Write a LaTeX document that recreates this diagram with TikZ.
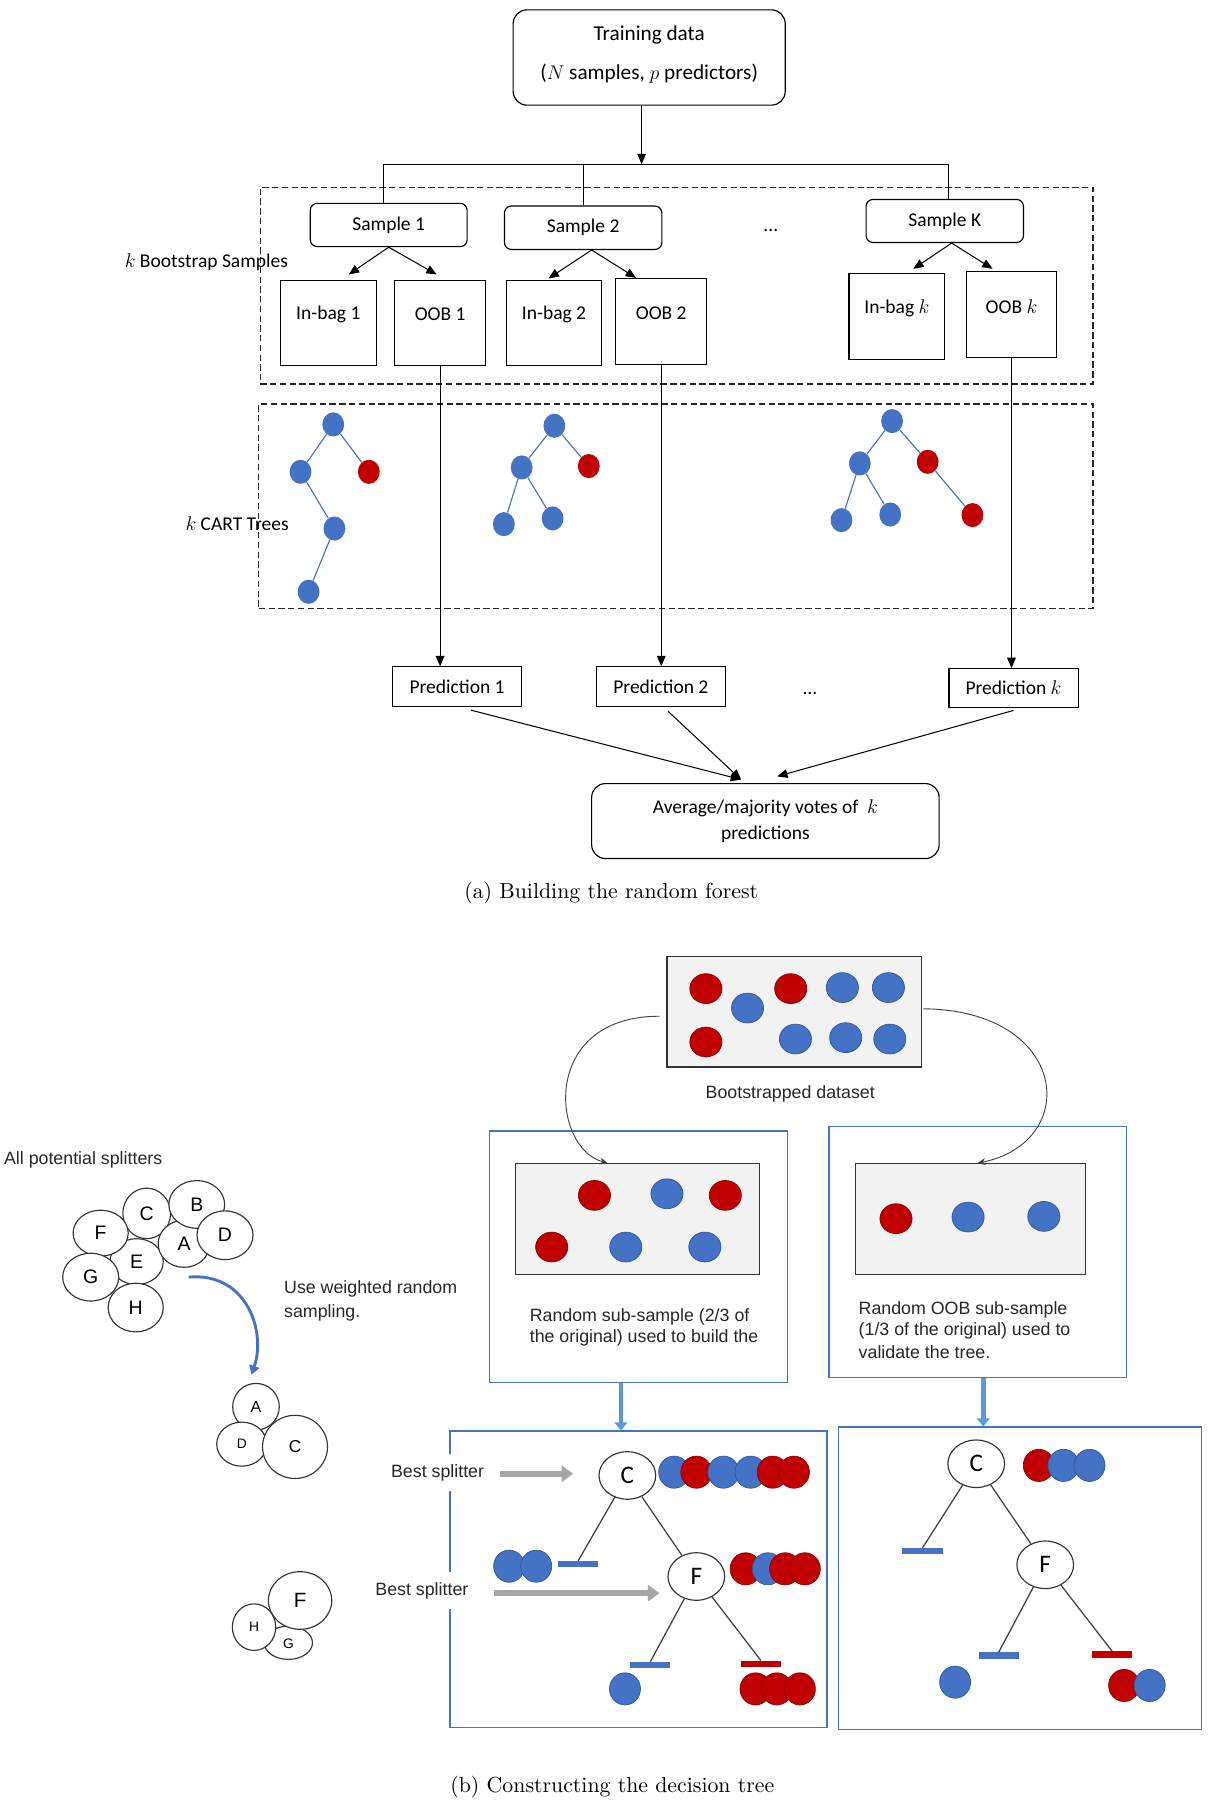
\documentclass[tikz,border=0pt]{standalone}
\usepackage{fontspec}
\newfontfamily\cfont{Carlito}
\newfontfamily\afont{Liberation Sans}
\newfontfamily\capfont{lmroman10-regular.otf}
\usetikzlibrary{arrows.meta,shapes.geometric}
\definecolor{cblue}{HTML}{4472C4}
\definecolor{cred}{HTML}{C00000}
\definecolor{cblueb}{HTML}{2F5597}
\definecolor{credb}{HTML}{8B0000}
\definecolor{lblue}{HTML}{5B9BD5}
\definecolor{boxgray}{HTML}{F2F2F2}
\begin{document}
\begin{tikzpicture}[x=1pt,y=-1pt,
  fa/.style={font=\cfont\fontsize{17}{20}\selectfont},
  fb/.style={font=\afont\fontsize{15.5}{18.5}\selectfont, text=black!85},
  ln/.style={draw=black, line width=1pt},
  sqbox/.style={draw=black, line width=1pt, inner sep=0pt},
  rdbox/.style={sqbox, rounded corners=6pt},
  arr/.style={draw=black, line width=0.9pt, -{Triangle[length=9pt,width=7.5pt]}},
  dbox/.style={draw=black!85, line width=1.1pt, dash pattern=on 5.5pt off 3pt, inner sep=0pt},
  tnb/.style={ellipse, fill=cblue, minimum width=19pt, minimum height=21pt, inner sep=0pt},
  tnr/.style={tnb, fill=cred},
  tl/.style={draw=cblue, line width=1pt},
  bc/.style={ellipse, fill=cblue, draw=cblueb, line width=0.6pt, minimum width=28pt, minimum height=26pt, inner sep=0pt},
  rc/.style={bc, fill=cred, draw=credb},
  tcb/.style={bc, minimum width=27pt, minimum height=28pt},
  tcr/.style={rc, minimum width=27pt, minimum height=28pt},
  gbox/.style={draw=black!80, fill=boxgray, line width=1pt, inner sep=0pt},
  bbox/.style={draw=cblue, line width=1pt, inner sep=0pt},
  lc/.style={ellipse, draw=black!80, fill=white, line width=1pt, inner sep=0pt, font=\afont\fontsize{17}{17}\selectfont},
  tnode/.style={lc, minimum width=49.4pt, minimum height=41.4pt, font=\cfont\fontsize{22}{22}\selectfont},
  bar/.style={fill=cblue, minimum width=35pt, minimum height=5.5pt, inner sep=0pt},
  rbar/.style={bar, fill=cred},
  tline/.style={draw=black!75, line width=1.1pt},
  garr/.style={draw=black!35, line width=5pt, -{Triangle[length=10pt,width=14pt]}},
  barr/.style={draw=lblue, line width=4pt, -{Triangle[length=7pt,width=11pt]}},
  carr/.style={draw=black!75, line width=0.8pt, -{Stealth[length=7pt,width=6pt]}},
  bcurve/.style={draw=cblue, line width=2.5pt, -{Triangle[length=8pt,width=9pt]}},
  capt/.style={font=\capfont\fontsize{19}{22}\selectfont}
]
\useasboundingbox (0,0) rectangle (1057,1568);

%%%%%%%%%%%%%%%% PART (a)
\node[sqbox, rounded corners=12pt, minimum width=237pt, minimum height=83pt] (train) at (565.5,50.1) {};
\node[font=\cfont\fontsize{18.5}{22}\selectfont] (train1) at (565.5,30.5) {Training data};
\node[font=\cfont\fontsize{18.5}{22}\selectfont] (train2) at (565.5,64.5) {($N$ samples, $p$ predictors)};

\coordinate (busL) at (334.4,143);
\coordinate (busR) at (826.6,143);
\coordinate (busM) at (558.9,143);

\node[dbox, minimum width=725.4pt, minimum height=171.4pt] (dash1) at (589.5,248.8) {};
\node[dbox, minimum width=726.5pt, minimum height=178pt] (dash2) at (588.75,441) {};

\node[rdbox, fa, minimum width=136.6pt, minimum height=37.7pt] (s1) at (338.6,196) {Sample 1};
\node[rdbox, fa, minimum width=137.1pt, minimum height=37.8pt] (s2) at (508,198.4) {Sample 2};
\node[rdbox, fa, minimum width=137.1pt, minimum height=37.5pt] (sK) at (823,192.5) {Sample K};
\node[fa] (dots1) at (671.5,200.4) {...};

\draw[arr] (train.south -| busM) -- (busM);
\draw[ln] (busL) -- (busR);
\draw[ln] (busL) -- (busL |- s1.north);
\draw[ln] (s2.north |- busL) -- (s2.north);
\draw[ln] (busR) -- (busR |- sK.north);

\node[sqbox, minimum width=83.5pt, minimum height=74.6pt] (ib1) at (286,281.3) {};
\node[sqbox, minimum width=79pt, minimum height=74.6pt] (oob1) at (383.4,281.3) {};
\node[sqbox, minimum width=82.5pt, minimum height=74.6pt] (ib2) at (482.6,281.3) {};
\node[sqbox, minimum width=79.1pt, minimum height=74.7pt] (oob2) at (576,279.9) {};
\node[sqbox, minimum width=83.6pt, minimum height=74.6pt] (ibk) at (781.3,275.5) {};
\node[sqbox, minimum width=79pt, minimum height=74.7pt] (oobk) at (881.1,274) {};
\node[fa] (ib1t) at (286,274) {In-bag 1};
\node[fa] (oob1t) at (383.4,274) {OOB 1};
\node[fa] (ib2t) at (482.6,274) {In-bag 2};
\node[fa] (oob2t) at (576,272.6) {OOB 2};
\node[fa] (ibkt) at (781.3,268.2) {In-bag $k$};
\node[fa] (oobkt) at (881.1,266.8) {OOB $k$};

\draw[arr] (s1.south) -- ([xshift=17.8pt,yshift=4.4pt]ib1.north);
\draw[arr] (s1.south) -- ([xshift=-3pt,yshift=4.4pt]oob1.north);
\draw[arr] ([xshift=7.4pt]s2.south) -- ([xshift=-4.7pt,yshift=1pt]ib2.north);
\draw[arr] ([xshift=7.4pt]s2.south) -- ([xshift=-22pt,yshift=0pt]oob2.north);
\draw[arr] ([xshift=6pt]sK.south) -- ([xshift=14.3pt,yshift=3.5pt]ibk.north);
\draw[arr] ([xshift=6pt]sK.south) -- ([xshift=-16.5pt,yshift=2pt]oobk.north);

\node[fa] (lblboot) at (179.8,228) {$k$ Bootstrap Samples};
\node[fa] (lblcart) at (206.5,456) {$k$ CART Trees};

% trees
\node[tnb] (t1a) at (290.3,369.7) {};
\node[tnb] (t1b) at (261.8,411) {};
\node[tnr] (t1c) at (321.3,411) {};
\node[tnb] (t1d) at (291.3,460.4) {};
\node[tnb] (t1e) at (268.8,515.5) {};
\draw[tl] (t1a) -- (t1b); \draw[tl] (t1a) -- (t1c);
\draw[tl] (t1b) -- (t1d); \draw[tl] (t1d) -- (t1e);

\node[tnb] (t2a) at (482.9,370.9) {};
\node[tnb] (t2b) at (454.4,407.2) {};
\node[tnr] (t2c) at (512.9,406) {};
\node[tnb] (t2d) at (438.9,456.6) {};
\node[tnb] (t2e) at (481.4,451.6) {};
\draw[tl] (t2a) -- (t2b); \draw[tl] (t2a) -- (t2c);
\draw[tl] (t2b) -- (t2d); \draw[tl] (t2b) -- (t2e);

\node[tnb] (t3a) at (777.1,366.8) {};
\node[tnb] (t3b) at (749,403.7) {};
\node[tnr] (t3c) at (808.1,402.3) {};
\node[tnb] (t3d) at (733,453.1) {};
\node[tnb] (t3e) at (775.5,448.2) {};
\node[tnr] (t3f) at (847.1,448.7) {};
\draw[tl] (t3a) -- (t3b); \draw[tl] (t3a) -- (t3c);
\draw[tl] (t3b) -- (t3d); \draw[tl] (t3b) -- (t3e);
\draw[tl] (t3c) -- (t3f);

% predictions
\node[sqbox, fa, minimum width=112.5pt, minimum height=34.3pt] (p1) at (398.2,598) {Prediction 1};
\node[sqbox, fa, minimum width=112.6pt, minimum height=34.3pt] (p2) at (575.7,598) {Prediction 2};
\node[sqbox, fa, minimum width=112.5pt, minimum height=33.9pt] (pk) at (882.9,599.4) {Prediction $k$};
\node[fa] (dots2) at (705.5,604.1) {...};

\draw[arr] (oob1.south) -- (oob1.south |- p1.north);
\draw[arr] (oob2.south) -- (oob2.south |- p2.north);
\draw[arr] (oobk.south) -- (oobk.south |- pk.north);

\node[sqbox, rounded corners=12pt, fa, align=center, font=\cfont\fontsize{17}{22}\selectfont,
      minimum width=302.7pt, minimum height=65.3pt] (avg) at (666.75,715.25)
      {Average/majority votes of~ $k$\\predictions};

\draw[arr] ([xshift=12.2pt,yshift=-3pt]p1.south) -- ([xshift=-21.2pt,yshift=3pt]avg.north);
\draw[arr] ([xshift=6.3pt,yshift=-4pt]p2.south) -- ([xshift=-21.2pt,yshift=3pt]avg.north);
\draw[arr] ([yshift=-2pt]pk.south) -- ([xshift=10.25pt,yshift=5.8pt]avg.north);

\node[capt] (capa) at (532.4,778) {(a) Building the random forest};

%%%%%%%%%%%%%%%% PART (b)
\node[gbox, minimum width=221.8pt, minimum height=96.5pt] (boot) at (691.9,881.25) {};
\node[rc] (bc1) at (614.9,861.2) {};
\node[bc] (bc2) at (651.2,878.1) {};
\node[rc] (bc3) at (688.8,861.2) {};
\node[bc] (bc4) at (733.8,860.3) {};
\node[bc] (bc5) at (773.9,860.3) {};
\node[rc] (bc6) at (614.9,907.7) {};
\node[bc] (bc7) at (692.9,905.1) {};
\node[bc] (bc8) at (736.7,903.9) {};
\node[bc] (bc9) at (775.1,905.1) {};
\node[fb] (bootlbl) at (688.4,953.3) {Bootstrapped dataset};

\node[bbox, minimum width=260.2pt, minimum height=219.3pt] (lbox) at (556.2,1094.85) {};
\node[gbox, minimum width=212.7pt, minimum height=96.7pt] (lin) at (555.15,1062.05) {};
\node[rc] (lc1) at (517.8,1041.3) {};
\node[bc] (lc2) at (581,1039.9) {};
\node[rc] (lc3) at (631.8,1041.3) {};
\node[rc] (lc4) at (480.6,1086.3) {};
\node[bc] (lc5) at (545.1,1086.3) {};
\node[bc] (lc6) at (614,1086.3) {};
\node[fb, anchor=west] (ltx1) at (458,1147.3) {Random sub-sample (2/3 of};
\node[fb, anchor=west] (ltx2) at (458,1165.5) {the original) used to build the};

\node[bbox, minimum width=259.4pt, minimum height=219pt] (rbox) at (851.9,1090.7) {};
\node[gbox, minimum width=199.9pt, minimum height=96.7pt] (rin) at (845.35,1062.05) {};
\node[rc] (rc1) at (780.5,1061.6) {};
\node[bc] (rc2) at (843.3,1060.2) {};
\node[bc] (rc3) at (909.3,1059.6) {};
\node[fb, anchor=west] (rtx1) at (744.5,1141) {Random OOB sub-sample};
\node[fb, anchor=west] (rtx2) at (744.5,1159.5) {(1/3 of the original) used to};
\node[fb, anchor=west] (rtx3) at (744.5,1178.2) {validate the tree.};

\draw[carr] ([xshift=-6pt,yshift=-4pt]boot.west) .. controls (470,885) and (480,1000) .. ([xshift=-25.7pt]lin.north);
\draw[carr] ([xshift=1pt,yshift=2.5pt]boot.east) .. controls (932,880) and (942,995) .. ([xshift=6.2pt]rin.north);

% bottom boxes
\node[bbox, minimum width=328.4pt, minimum height=258pt] (bl) at (556.2,1375.6) {};
\node[bbox, minimum width=316.4pt, minimum height=263.8pt] (br) at (888.4,1375) {};
\draw[barr] ([xshift=-15.3pt]lbox.south) -- ([xshift=-15.3pt]bl.north);
\draw[barr] ([xshift=4.6pt]rbox.south) -- ([xshift=4.6pt]rbox.south |- br.north);

% left tree
\node[tnode] (lC) at (546.5,1285.3) {C};
\node[tcb] (lr1) at (587.3,1282.4) {};
\node[tcr] (lr2) at (606.6,1282.4) {};
\node[tcb] (lr3) at (630.2,1282.4) {};
\node[tcb] (lr4) at (653.8,1282.4) {};
\node[tcr] (lr5) at (673.1,1282.4) {};
\node[tcr] (lr6) at (691.6,1282.4) {};
\node[bar] (lbar1) at (503.6,1362.6) {};
\node[tcb] (lp1) at (443.5,1364.3) {};
\node[tcb] (lp2) at (467.1,1364.3) {};
\node[tnode] (lF) at (606.6,1373.3) {F};
\node[tcr] (lf1) at (649.5,1366.6) {};
\node[tcb] (lf2) at (668.9,1366.6) {};
\node[tcr] (lf3) at (683.9,1366.6) {};
\node[tcr] (lf4) at (701.1,1366.6) {};
\node[bar] (lbar2) at (566.5,1450.5) {};
\node[rbar] (lbar3) at (662.8,1449.4) {};
\node[tcb] (lb1) at (544.4,1471.2) {};
\node[tcr] (lq1) at (658.1,1471.2) {};
\node[tcr] (lq2) at (676.6,1471.2) {};
\node[tcr] (lq3) at (696.8,1471.2) {};
\draw[tline] (lC) -- (lbar1.north);
\draw[tline] (lC) -- (lF);
\draw[tline] (lF) -- (lbar2.north);
\draw[tline] (lF) -- (lbar3.north);

\node[fb, fill=white, inner xsep=2pt, inner ysep=9pt] (bs1) at (381.2,1283) {Best splitter};
\node[fb, fill=white, inner xsep=2pt, inner ysep=9pt] (bs2) at (367.5,1385.5) {Best splitter};
\coordinate (ga1e) at (499.3,1283.8);
\coordinate (ga2e) at (574.4,1387.8);
\draw[garr] ([xshift=11.4pt]bs1.east |- ga1e) -- (ga1e);
\draw[garr] ([xshift=20.4pt]bs2.east |- ga2e) -- (ga2e);

% right tree
\node[tnode] (rC) at (850.4,1275.1) {C};
\node[tcr] (rr1) at (904.9,1276.5) {};
\node[tcb] (rr2) at (926.4,1276.5) {};
\node[tcb] (rr3) at (949.1,1276.5) {};
\node[bar] (rbar1) at (803.6,1351.3) {};
\node[tnode] (rF) at (910.5,1363.1) {F};
\node[bar] (rbar2) at (870,1442.1) {};
\node[rbar] (rbar3) at (968.7,1441.2) {};
\node[tcb] (rb1) at (832,1465.3) {};
\node[tcr] (rq1) at (979.2,1468.2) {};
\node[tcb] (rq2) at (1001.5,1468.2) {};
\draw[tline] (rC) -- (rbar1.north);
\draw[tline] (rC) -- (rF);
\draw[tline] (rF) -- (rbar2.north);
\draw[tline] (rF) -- (rbar3.north);

% left clusters
\node[fb, anchor=west] (allsp) at (0,1010.4) {All potential splitters};
\node[lc, minimum width=46.4pt, minimum height=40pt] (cE) at (119,1099) {E};
\node[lc, minimum width=41.6pt, minimum height=44pt] (cC) at (127.8,1057) {C};
\node[lc, minimum width=45pt, minimum height=41pt] (cA) at (160.3,1083.5) {A};
\node[lc, minimum width=48.6pt, minimum height=41.6pt] (cB) at (171.4,1049.2) {B};
\node[lc, minimum width=48.8pt, minimum height=42.4pt] (cD) at (196,1076) {D};
\node[lc, minimum width=48pt, minimum height=40pt] (cF) at (87.7,1074.2) {F};
\node[lc, minimum width=48.8pt, minimum height=41.6pt] (cG) at (79,1112.5) {G};
\node[lc, minimum width=48pt, minimum height=42.4pt] (cH) at (118.2,1139) {H};

\node[fb, anchor=west] (uw1) at (244,1122.7) {Use weighted random};
\node[fb, anchor=west] (uw2) at (244,1143.7) {sampling.};

\node[lc, minimum width=40.6pt, minimum height=40.6pt, font=\afont\fontsize{14}{14}\selectfont] (cA2) at (223,1225.4) {A};
\node[lc, minimum width=43.6pt, minimum height=38.4pt, font=\afont\fontsize{12}{12}\selectfont] (cD2) at (210.6,1258) {D};
\node[lc, minimum width=56.6pt, minimum height=55pt, font=\afont\fontsize{15}{15}\selectfont] (cC2) at (257,1260.4) {C};

\draw[bcurve] ([xshift=4pt,yshift=-8pt]cA.south) .. controls (215,1108) and (232,1160) .. ([xshift=-4pt,yshift=7pt]cA2.north);

\node[lc, minimum width=42pt, minimum height=29pt, font=\afont\fontsize{12}{12}\selectfont] (cG3) at (251.2,1431) {};
\node[lc, minimum width=37.8pt, minimum height=40.6pt, font=\afont\fontsize{12}{12}\selectfont] (cH3) at (221.3,1417.4) {H};
\node[lc, minimum width=55.2pt, minimum height=50.2pt, font=\afont\fontsize{18}{18}\selectfont] (cF3) at (261.4,1394.2) {F};
\node[font=\afont\fontsize{12}{12}\selectfont] (cG3t) at (251.2,1432) {G};

\node[capt] (capb) at (533.4,1556.8) {(b) Constructing the decision tree};
\end{tikzpicture}
\end{document}
